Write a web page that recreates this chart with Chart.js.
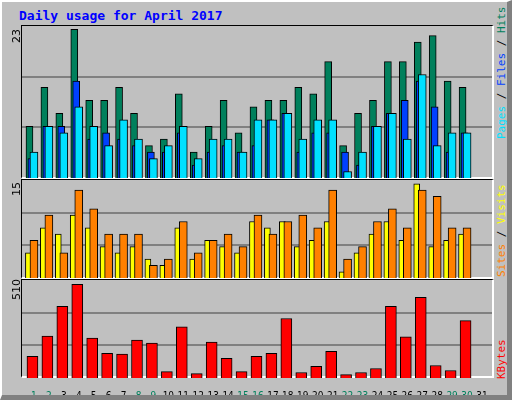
<!DOCTYPE html>
<html>
<head>
<meta charset="utf-8">
<script src="https://cdn.jsdelivr.net/npm/chart.js@4"></script>
<style>
  body { margin: 0; background: #fff; }
  #frame { position: relative; width: 512px; height: 400px; background: #c0c0c0; box-sizing: border-box;
           border-top: 2px solid #fff; border-left: 2px solid #fff; border-right: 5px solid #808080; border-bottom: 5px solid #808080; overflow: hidden; }
  .panel { position: absolute; left: 19px; width: 470px; box-sizing: content-box;
           border-top: 1px solid #000; border-left: 1px solid #000; border-right: 2px solid #fff; border-bottom: 2px solid #fff; }
  canvas { position: absolute; }
  .txt { position: absolute; font-family: "DejaVu Sans Mono", monospace; font-size: 11px; white-space: nowrap; }
  .rot { transform-origin: 0 0; transform: rotate(-90deg); }
</style>
</head>
<body>
<div id="frame">
  <div class="txt" style="left:17px;top:6px;color:#0000ff;font-size:13px;font-weight:bold;">Daily usage for April 2017</div>
  <div class="panel" style="top:23px;height:151px"></div>
  <div class="panel" style="top:177px;height:97px"></div>
  <div class="panel" style="top:277px;height:96px"></div>
  <canvas id="c1" style="left:20px;top:24px"></canvas>
  <canvas id="c2" style="left:20px;top:178px"></canvas>
  <canvas id="c3" style="left:20px;top:278px"></canvas>
  <div class="txt rot" style="left:8px;top:41px;font-family:'DejaVu Sans';">23</div>
  <div class="txt rot" style="left:8px;top:194px;font-family:'DejaVu Sans';">15</div>
  <div class="txt rot" style="left:8px;top:298px;font-family:'DejaVu Sans';">510</div>
  <div class="txt rot" style="left:493px;top:137px;"><span style="color:#00e0ff">Pages</span> / <span style="color:#0040ff">Files</span> / <span style="color:#00805c">Hits</span></div>
  <div class="txt rot" style="left:493px;top:275px;"><span style="color:#ff8000">Sites</span> / <span style="color:#ffff00">Visits</span></div>
  <div class="txt rot" style="left:493px;top:377px;color:#ff0000">KBytes</div>
</div>
<script>
const days = Array.from({ length: 31 }, (_, i) => i + 1);
const dayLabels = days.map(String);
const weekendDays = [1, 2, 8, 9, 15, 16, 22, 23, 29, 30];

const hits   = [8,14,10,23,12,12,14,10,5,6,13,4,8,12,7,11,12,12,14,13,18,5,10,12,18,18,21,22,15,14,0];
const files  = [3,8,8,15,6,7,6,5,4,4,7,2,4,5,4,5,9,10,4,7,7,4,2,8,10,12,15,11,4,7,0];
const pages  = [4,8,7,11,8,5,9,6,3,5,8,3,6,6,4,9,9,10,6,9,9,1,4,8,10,6,16,5,7,7,0];
const visits = [6,10,4,14,11,7,7,7,2,3,9,4,6,7,5,10,7,9,10,8,14,3,5,9,11,8,14,13,8,8,0];
const sites  = [4,8,7,10,8,5,4,5,3,2,8,3,6,5,4,9,8,9,5,6,9,1,4,7,9,6,15,5,6,7,0];
const kbytes = [118,229,390,510,218,135,130,207,190,35,279,24,196,107,35,118,135,324,30,63,146,18,30,52,390,224,440,68,41,313,0];

const pts = (vals, off) => vals.map((v, i) => ({ x: days[i] + off, y: v }));

function barSet(label, vals, off, color, width, order) {
  return { label, data: pts(vals, off), backgroundColor: color, borderColor: '#000', borderWidth: 1,
           borderSkipped: 'bottom', barThickness: width, grouped: false, order };
}

function makeChart(id, w, h, datasets, yMax, withTicks) {
  const cv = document.getElementById(id);
  cv.width = w; cv.height = h; cv.style.width = w + 'px'; cv.style.height = h + 'px';
  return new Chart(cv, {
    type: 'bar',
    data: { datasets },
    options: {
      responsive: false, animation: false,
      layout: { padding: 0 },
      plugins: { legend: { display: false }, tooltip: { enabled: false } },
      scales: {
        x: {
          type: 'linear', min: 0.2, max: 31.67, offset: false,
          border: { display: false }, grid: { display: false },
          afterBuildTicks: s => { s.ticks = days.map(v => ({ value: v })); },
          afterFit: s => { s.height = withTicks ? 20 : 0; },
          ticks: {
            display: withTicks, autoSkip: false, maxRotation: 0, padding: 4,
            font: { family: 'DejaVu Sans Condensed', size: 10 },
            callback: v => dayLabels[v - 1],
            color: c => weekendDays.includes(c.tick.value) ? '#00805c' : '#000'
          }
        },
        y: {
          min: 0, max: yMax, display: true,
          border: { display: false },
          afterFit: s => { s.width = 0; },
          afterBuildTicks: s => { s.ticks = [{ value: yMax / 3 }, { value: yMax * 2 / 3 }]; },
          ticks: { display: false },
          grid: { color: '#808080', lineWidth: 2, drawTicks: false }
        }
      }
    }
  });
}

makeChart('c1', 470, 152, [
  barSet('Hits', hits, -0.30, '#00805c', 7, 3),
  barSet('Files', files, -0.17, '#0040ff', 7, 2),
  barSet('Pages', pages, 0, '#00e0ff', 8, 1)
], 23.5, false);

makeChart('c2', 470, 98, [
  barSet('Visits', visits, 0, '#ff8000', 8, 1),
  barSet('Sites', sites, -0.37, '#ffff00', 6, 2)
], 15.6, false);

makeChart('c3', 470, 98 + 20, [
  barSet('KBytes', kbytes, -0.1, '#ff0000', 11, 1)
], 534, true);
</script>
</body>
</html>
